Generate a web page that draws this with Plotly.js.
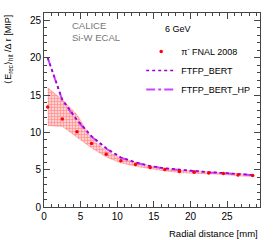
<!DOCTYPE html>
<html><head><meta charset="utf-8">
<script src="https://cdn.plot.ly/plotly-3.0.1.min.js"></script>
<style>body{margin:0;padding:0;background:#fff}#c{width:274px;height:240px}</style>
</head><body><div id="c"></div>
<script>
const radius = [0.5,2.5,4.5,6.5,8.5,10.5,12.5,14.5,16.5,18.5,20.5,22.5,24.5,26.5,28.5];
const dataVal = [13.4,11.8,10.1,8.5,7.07,6.2,5.7,5.3,5.03,4.76,4.67,4.57,4.49,4.3,4.22];
const bandLow = [10.9,10.8,9.4,7.9,6.7,5.9,5.45,5.1,4.83,4.6,4.5,4.42,4.35,4.17,4.1];
const bandHigh = [16.0,14.4,12.4,9.1,7.5,6.55,6.0,5.5,5.22,4.92,4.84,4.72,4.63,4.45,4.36];
const ftfpBert = [20.0,14.4,11.7,9.5,7.9,6.65,6.0,5.5,5.2,5.0,4.8,4.68,4.57,4.42,4.3];
const ftfpBertHP = [20.0,14.3,11.6,9.4,7.8,6.6,5.95,5.45,5.15,4.95,4.76,4.64,4.53,4.38,4.26];

const bandX = radius.concat(radius.slice().reverse());
const bandY = bandHigh.concat(bandLow.slice().reverse());

const F = 'Liberation Sans, Arial, sans-serif';
const traces = [
  {x: bandX, y: bandY, type:'scatter', mode:'lines', fill:'toself',
   fillcolor:'rgba(255,140,140,0.5)',
   fillpattern:{shape:'+', fgcolor:'rgba(255,70,70,0.55)', bgcolor:'rgba(255,150,150,0.45)', size:3, solidity:0.35},
   line:{width:0.5,color:'rgba(255,90,90,0.6)'},
   showlegend:false, hoverinfo:'skip'},
  {x: radius, y: ftfpBertHP, type:'scatter', mode:'lines', name:'FTFP_BERT_HP',
   line:{color:'#cc44ff', width:2, dash:'dashdot'}},
  {x: radius, y: ftfpBert, type:'scatter', mode:'lines', name:'FTFP_BERT',
   line:{color:'#9900cc', width:1.5, dash:'dot'}},
  {x: radius, y: dataVal, type:'scatter', mode:'markers', name:'π<sup>-</sup> FNAL 2008',
   marker:{color:'#ff0000', size:3.5}}
];

const layout = {
  width:274, height:240,
  margin:{l:44, r:14, t:13, b:33},
  paper_bgcolor:'#fff', plot_bgcolor:'#fff',
  font:{family:F, size:10, color:'#000'},
  showlegend:true,
  legend:{x:0.45, y:0.876, xanchor:'left', yanchor:'top', bgcolor:'rgba(0,0,0,0)',
    font:{size:9}, traceorder:'reversed', itemwidth:30},
  xaxis:{range:[0,29.5], showgrid:false, zeroline:false, showline:true, mirror:'allticks',
    linecolor:'#444', linewidth:1, ticks:'inside', ticklen:6, tickcolor:'#444', dtick:5, tick0:0,
    minor:{dtick:1, ticks:'inside', ticklen:3, tickcolor:'#444'},
    tickfont:{size:10}},
  yaxis:{range:[0,26], showgrid:false, zeroline:false, showline:true, mirror:'allticks',
    linecolor:'#444', linewidth:1, ticks:'inside', ticklen:6, tickcolor:'#444', dtick:5, tick0:0,
    minor:{dtick:1, ticks:'inside', ticklen:3, tickcolor:'#444'},
    tickfont:{size:10}},
  annotations:[
    {text:'CALICE<br>Si-W ECAL', xref:'paper', yref:'paper', x:0.12, y:0.972, xanchor:'left', yanchor:'top',
     showarrow:false, align:'left', font:{size:9.5, color:'#777'}},
    {text:'6 GeV', xref:'paper', yref:'paper', x:0.551, y:0.918, xanchor:'left', yanchor:'middle',
     showarrow:false, font:{size:9}},
    {text:'Radial distance [mm]', xref:'paper', yref:'paper', x:1.0, y:-0.098, xanchor:'right', yanchor:'top',
     showarrow:false, font:{size:9.5}},
    {text:'⟨E<sub>rec</sub>⟩<sub>hit</sub> /Δ r [MIP]', xref:'paper', yref:'paper', x:-0.2, y:1.0,
     xanchor:'left', yanchor:'top', textangle:-90, showarrow:false, font:{size:9}}
  ]
};
Plotly.newPlot('c', traces, layout, {staticPlot:true});
</script></body></html>
